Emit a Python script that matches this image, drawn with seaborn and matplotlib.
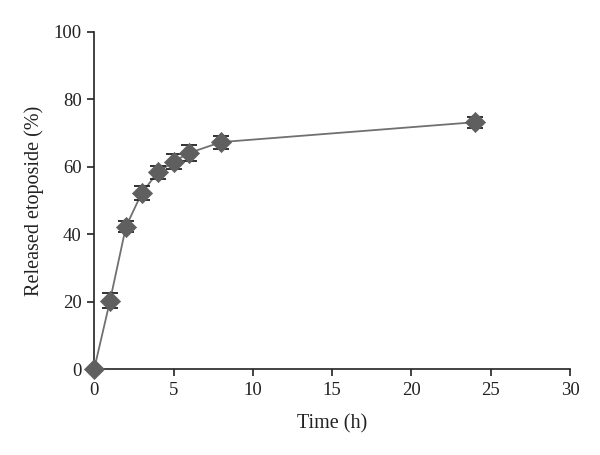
import matplotlib
matplotlib.use("Agg")
import matplotlib.pyplot as plt
import seaborn as sns
import pandas as pd
import numpy as np

time_h = [0, 1, 2, 3, 4, 5, 6, 8, 24]
released = [0, 20.3, 42.2, 52.2, 58.3, 61.5, 64.1, 67.3, 73.2]
err = [0, 2.2, 1.6, 2.2, 2.0, 2.2, 2.4, 1.9, 1.6]

df = pd.DataFrame({"Time (h)": time_h, "Released etoposide (%)": released, "err": err})

sns.set_theme(style="ticks")
plt.rcParams['font.family'] = ['Liberation Serif', 'DejaVu Serif']

fig = plt.figure(figsize=(6, 4.55), dpi=100)
ax = fig.add_axes([0.157, 0.189, 0.793, 0.741])

col = "#5f5f5f"
sns.lineplot(data=df, x="Time (h)", y="Released etoposide (%)", ax=ax,
             color="#707070", linewidth=1.3, zorder=2)
ax.errorbar(df["Time (h)"], df["Released etoposide (%)"], yerr=df["err"],
            fmt="none", ecolor="#222222", elinewidth=1.3, capsize=6, capthick=1.3, zorder=3)
sns.scatterplot(data=df, x="Time (h)", y="Released etoposide (%)", ax=ax,
                marker="D", s=105, color=col, edgecolor=col, linewidth=0.5, zorder=4, clip_on=False)

ax.set_xlim(0, 30)
ax.set_ylim(0, 100)
ax.set_xticks([0, 5, 10, 15, 20, 25, 30])
ax.set_yticks([0, 20, 40, 60, 80, 100])
for c in ax.collections:
    c.set_clip_on(False)
sns.despine(ax=ax)
for s in ["left", "bottom"]:
    ax.spines[s].set_linewidth(1.2)
    ax.spines[s].set_color("#222222")
ax.tick_params(axis="both", direction="out", length=5, width=1.2, color="#222222",
               labelsize=13.5, labelcolor="#222222", pad=4)
ax.set_xlabel("Time (h)", fontsize=14.5, color="#222222", labelpad=11)
ax.set_ylabel("Released etoposide (%)", fontsize=14.5, color="#222222", labelpad=7)

fig.savefig("out.png", dpi=100)
